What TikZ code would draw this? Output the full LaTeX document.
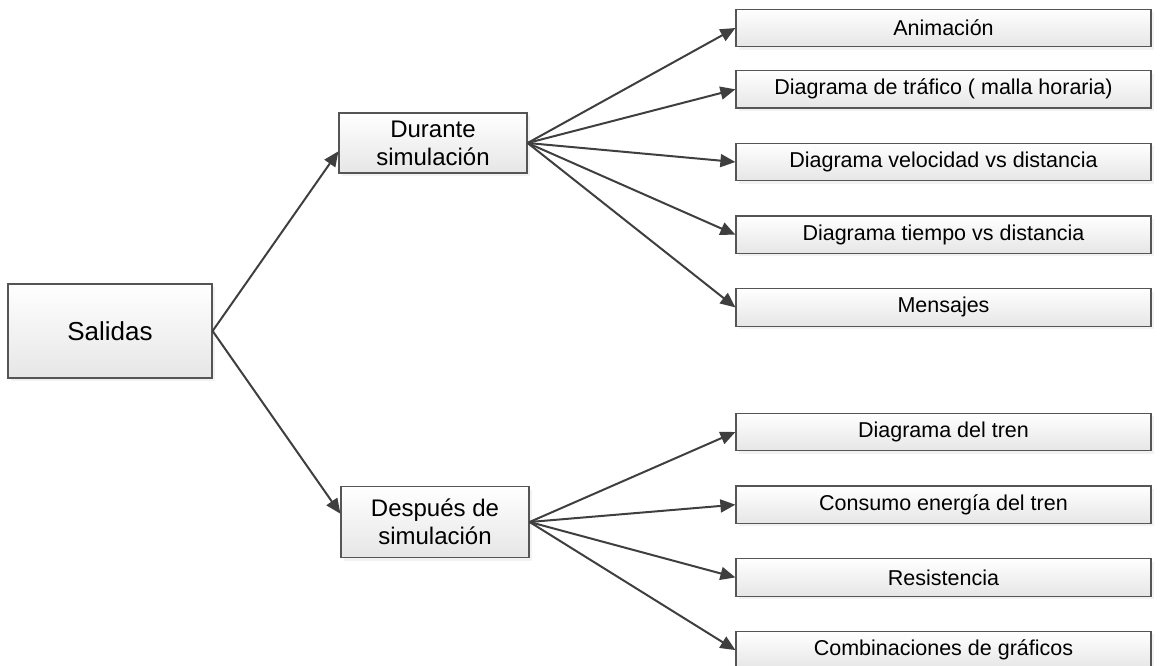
\documentclass[tikz,border=0pt]{standalone}
\usepackage{fontspec}
\setmainfont{Liberation Sans}
\usetikzlibrary{arrows.meta,positioning,shadows}
\definecolor{BoxEdge}{HTML}{555555}
\definecolor{BoxTop}{HTML}{FFFFFF}
\definecolor{BoxBottom}{HTML}{E6E6E6}
\definecolor{ArrowGray}{HTML}{3F3F3F}
\tikzset{
  outbox/.style={draw=BoxEdge, line width=1.2pt, top color=BoxTop, bottom color=BoxBottom, align=center, inner sep=0pt, drop shadow={shadow xshift=2.5pt, shadow yshift=-3pt, fill=black!10}},
  rootbox/.style={outbox, minimum width=204pt, minimum height=94pt, font=\fontsize{26}{30}\selectfont},
  phasebox/.style={outbox, minimum width=188pt, font=\fontsize{24}{28}\selectfont},
  itembox/.style={outbox, minimum width=415pt, minimum height=37.5pt, font=\fontsize{21.5}{25}\selectfont},
  arrow/.style={-{Triangle[length=15pt, width=13pt]}, line width=2pt, draw=ArrowGray}
}

\begin{document}
\begin{tikzpicture}[node distance=34pt]
    \useasboundingbox (0,0) rectangle (1160pt,-666pt);

    \node[rootbox] (sal) at (110pt,-331pt) {Salidas};
    \node[phasebox, minimum height=60pt] (dur) at (433pt,-143pt) {Durante\\simulación};
    \node[phasebox, minimum height=71pt] (desp) at (435pt,-522pt) {Después de\\simulación};

    % outputs while the simulation runs
    \node[itembox] (anim) at (943.5pt,-28pt) {Animación};
    \node[itembox, below=22.6pt of anim] (traf) {Diagrama de tráfico ( malla horaria)};
    \node[itembox, below=of traf] (vel) {Diagrama velocidad vs distancia};
    \node[itembox, below=of vel] (tiem) {Diagrama tiempo vs distancia};
    \node[itembox, below=of tiem] (mens) {Mensajes};

    % outputs after the simulation
    \node[itembox] (tren) at (943.5pt,-432pt) {Diagrama del tren};
    \node[itembox, below=of tren] (cons) {Consumo energía del tren};
    \node[itembox, below=of cons] (res) {Resistencia};
    \node[itembox, below=of res] (comb) {Combinaciones de gráficos};

    \draw[arrow] (sal.east) -- (dur.185);
    \draw[arrow] (sal.east) -- (desp.175);

    \draw[arrow] (dur.east) -- (anim.west);
    \draw[arrow] (dur.east) -- (traf.west);
    \draw[arrow] (dur.east) -- (vel.west);
    \draw[arrow] (dur.east) -- (tiem.west);
    \draw[arrow] (dur.east) -- (mens.west);

    \draw[arrow] (desp.east) -- (tren.west);
    \draw[arrow] (desp.east) -- (cons.west);
    \draw[arrow] (desp.east) -- (res.west);
    \draw[arrow] (desp.east) -- (comb.west);
  \end{tikzpicture}
\end{document}
